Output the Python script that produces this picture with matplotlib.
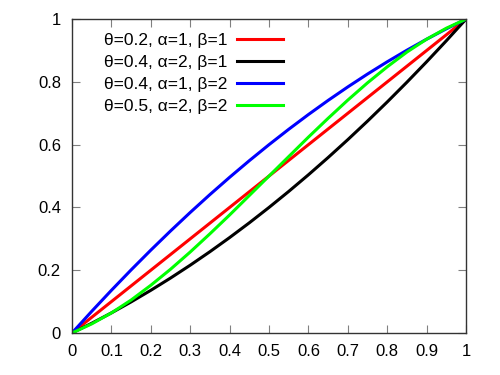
import matplotlib
matplotlib.use('Agg')
import matplotlib.pyplot as plt

plt.rcParams['font.family'] = ['Liberation Sans', 'DejaVu Sans']

x = [0, 0.05, 0.1, 0.15, 0.2, 0.25, 0.3, 0.35, 0.4, 0.45, 0.5,
     0.55, 0.6, 0.65, 0.7, 0.75, 0.8, 0.85, 0.9, 0.95, 1]

# values
red = [0, 0.05, 0.1, 0.15, 0.2, 0.25, 0.3, 0.35, 0.4, 0.45, 0.5,
       0.55, 0.6, 0.65, 0.7, 0.75, 0.8, 0.85, 0.9, 0.95, 1]
black = [0, 0.031, 0.064, 0.099, 0.136, 0.175, 0.216, 0.259, 0.304, 0.351, 0.4,
         0.451, 0.504, 0.559, 0.616, 0.675, 0.736, 0.799, 0.864, 0.931, 1]
blue = [0, 0.069, 0.136, 0.201, 0.264, 0.325, 0.384, 0.441, 0.496, 0.549, 0.6,
        0.649, 0.696, 0.741, 0.784, 0.825, 0.864, 0.901, 0.936, 0.969, 1]
green = [0, 0.029, 0.064, 0.105, 0.152, 0.203, 0.258, 0.316, 0.376, 0.438, 0.5,
         0.562, 0.624, 0.684, 0.742, 0.797, 0.848, 0.895, 0.936, 0.971, 1]

labels = ['θ=0.2, α=1, β=1', 'θ=0.4, α=2, β=1',
          'θ=0.4, α=1, β=2', 'θ=0.5, α=2, β=2']

xticks = [0, 0.1, 0.2, 0.3, 0.4, 0.5, 0.6, 0.7, 0.8, 0.9, 1]
xticklabels = ['0', '0.1', '0.2', '0.3', '0.4', '0.5', '0.6', '0.7', '0.8', '0.9', '1']
yticks = [0, 0.2, 0.4, 0.6, 0.8, 1]
yticklabels = ['0', '0.2', '0.4', '0.6', '0.8', '1']

fig = plt.figure(figsize=(5, 3.75), dpi=100)
ax = fig.add_axes([0.144, 0.112, 0.788, 0.837])

lw = 2.2
ax.plot(x, red, color='#ff0000', lw=lw, label=labels[0])
ax.plot(x, black, color='#000000', lw=lw, label=labels[1])
ax.plot(x, blue, color='#0000ff', lw=lw, label=labels[2])
ax.plot(x, green, color='#00ff00', lw=lw, label=labels[3])

ax.set_xlim(0, 1)
ax.set_ylim(0, 1)
ax.set_xticks(xticks)
ax.set_xticklabels(xticklabels)
ax.set_yticks(yticks)
ax.set_yticklabels(yticklabels)
ax.tick_params(direction='in', top=True, right=True, length=6, width=0.8,
               color='#808080', labelsize=12, pad=8)
for s in ax.spines.values():
    s.set_linewidth(1)
    s.set_color('#333333')

leg = ax.legend(loc='upper left', bbox_to_anchor=(0.063, 0.978), frameon=False,
                markerfirst=False, fontsize=12.5, handlelength=2.65,
                handletextpad=0.55, labelspacing=0.4, borderaxespad=0)

fig.savefig('out.png', dpi=100)
